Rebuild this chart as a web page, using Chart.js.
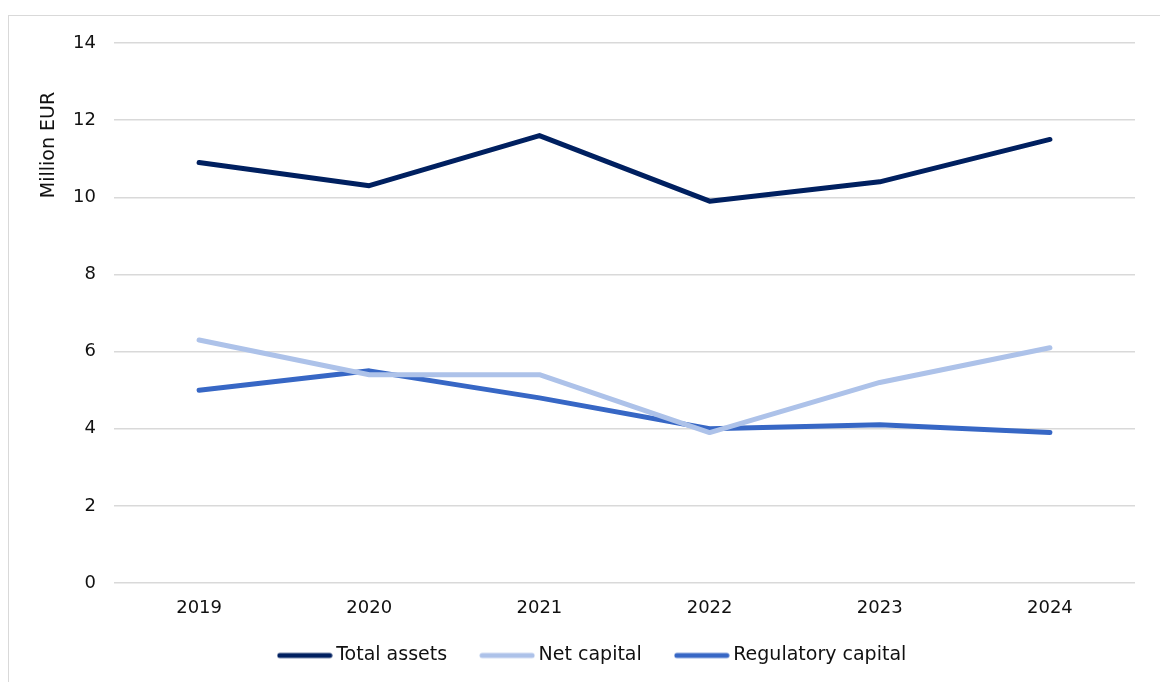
<!DOCTYPE html>
<html>
<head>
<meta charset="utf-8">
<script src="https://cdn.jsdelivr.net/npm/chart.js@4/dist/chart.umd.min.js"></script>
<style>
  html, body { margin: 0; padding: 0; background: #fff; }
  body { width: 1160px; height: 682px; position: relative; overflow: hidden; }
  #frame { position: absolute; left: 8px; top: 15px; width: 1200px; height: 720px; border: 1px solid #d9d9d9; box-sizing: border-box; }
  #wrap { position: absolute; left: 0; top: 0; width: 1160px; height: 682px; }
</style>
</head>
<body>
<div id="frame"></div>
<div id="wrap"><canvas id="chart"></canvas></div>
<script>
// Values in million EUR
const years = ['2019', '2020', '2021', '2022', '2023', '2024'];
const totalAssets = [10.9, 10.3, 11.6, 9.9, 10.4, 11.5];
const netCapital = [6.3, 5.4, 5.4, 3.9, 5.2, 6.1];
const regulatoryCapital = [5.0, 5.5, 4.8, 4.0, 4.1, 3.9];

const FONT = "'DejaVu Sans', Verdana, sans-serif";
const AREA = { left: 114, right: 1135, top: 43, bottom: 583 };

// legend swatch: a short thick line with round ends
function swatch(color) {
  const c = document.createElement('canvas');
  c.width = 56; c.height = 8;
  const g = c.getContext('2d');
  g.strokeStyle = color; g.lineWidth = 5; g.lineCap = 'round';
  g.beginPath(); g.moveTo(3, 4); g.lineTo(53, 4); g.stroke();
  return c;
}

function series(label, data, color) {
  return {
    label, data,
    borderColor: color, backgroundColor: color,
    borderWidth: 5, borderCapStyle: 'round', borderJoinStyle: 'round',
    pointRadius: 0, pointHoverRadius: 0, pointStyle: swatch(color),
    tension: 0, fill: false
  };
}

// y-axis title sits up next to the upper ticks, not centred on the axis
const axisTitle = {
  id: 'axisTitle',
  afterDraw(chart) {
    const ctx = chart.ctx;
    ctx.save();
    ctx.translate(49, chart.chartArea.top + 102);
    ctx.rotate(-Math.PI / 2);
    ctx.font = '19px ' + FONT;
    ctx.fillStyle = '#111';
    ctx.textAlign = 'center';
    ctx.textBaseline = 'middle';
    ctx.fillText('Million EUR', 0, 0);
    ctx.restore();
  }
};

// place the legend row: a bit right of centre, just under the year labels
const legendPlace = {
  id: 'legendPlace',
  afterLayout(chart) {
    const lg = chart.legend;
    lg.left += 27; lg.right += 27;
    lg.top = 608; lg.bottom = chart.height;
  }
};

new Chart(document.getElementById('chart').getContext('2d'), {
  type: 'line',
  data: {
    labels: years,
    datasets: [
      series('Total assets', totalAssets, '#002060'),
      series('Net capital', netCapital, '#adc2e9'),
      series('Regulatory capital', regulatoryCapital, '#3767c5')
    ]
  },
  options: {
    responsive: true, maintainAspectRatio: false, animation: false,
    layout: { padding: { left: 0, right: 1160 - AREA.right, top: AREA.top, bottom: 4 } },
    plugins: {
      legend: {
        position: 'bottom',
        maxHeight: 50,
        labels: {
          usePointStyle: true, pointStyleWidth: 44, boxHeight: 19,
          padding: 38, color: '#111', font: { family: FONT, size: 19 }
        }
      },
      tooltip: { enabled: false }
    },
    scales: {
      x: {
        offset: true,
        grid: { display: false, drawTicks: false },
        border: { display: false },
        ticks: { color: '#111', padding: 15, font: { family: FONT, size: 18 } },
        afterFit(s) { s.height = 682 - AREA.bottom - 4 - s.chart.legend.height; }
      },
      y: {
        min: 0, max: 14,
        ticks: { stepSize: 2, color: '#111', padding: 18, font: { family: FONT, size: 18 } },
        grid: { color: '#d9d9d9', lineWidth: 1.5, drawTicks: false },
        border: { display: false },
        afterFit(s) { s.width = AREA.left; }
      }
    }
  },
  plugins: [axisTitle, legendPlace]
});
</script>
</body>
</html>
